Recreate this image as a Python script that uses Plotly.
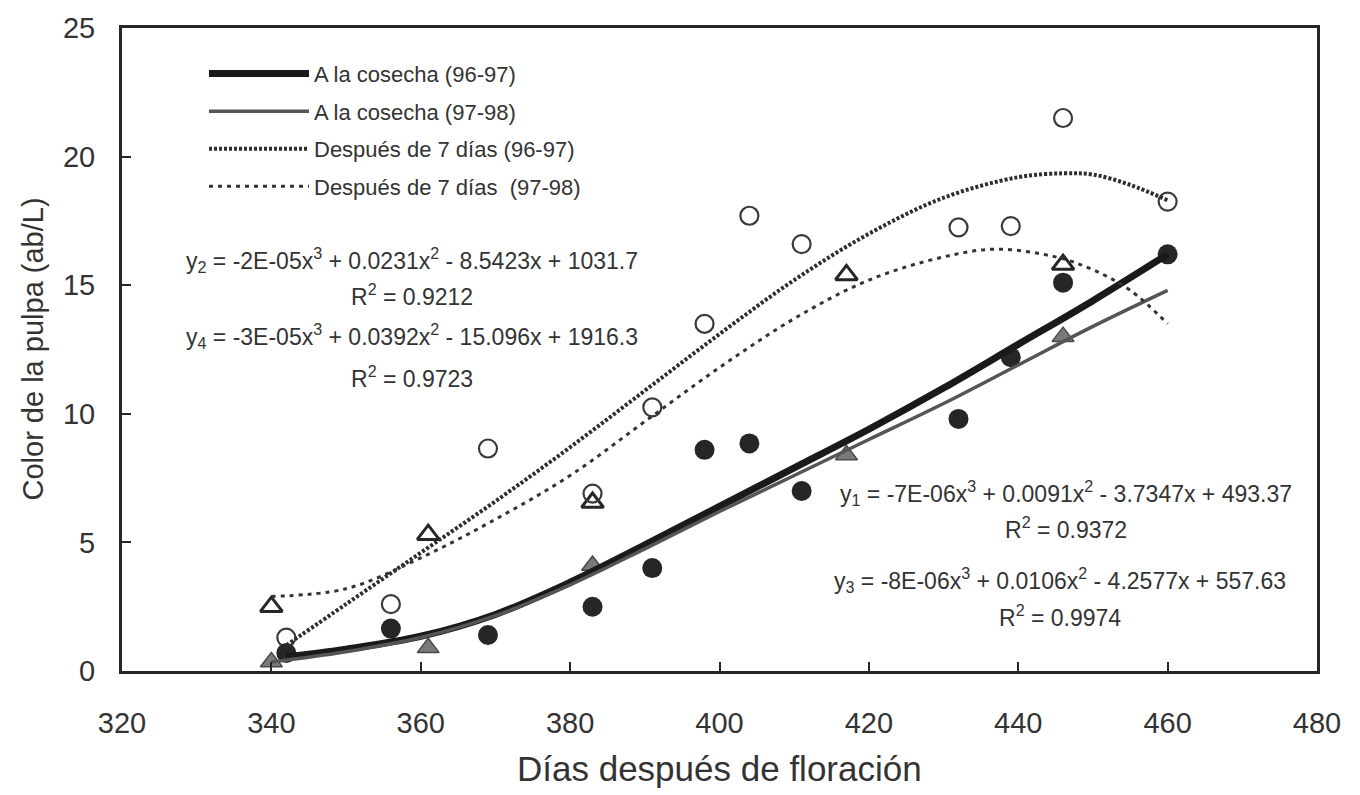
import plotly.graph_objects as go

# ---- data ----
x96 = [342, 356, 369, 383, 391, 398, 404, 411, 432, 439, 446, 460]
cos96 = [0.7, 1.65, 1.4, 2.5, 4.0, 8.6, 8.85, 7.0, 9.8, 12.2, 15.1, 16.2]
d7_96 = [1.3, 2.6, 8.65, 6.9, 10.25, 13.5, 17.7, 16.6, 17.25, 17.3, 21.5, 18.25]

x97 = [340, 361, 383, 417, 446]
cos97 = [0.35, 0.9, 4.1, 8.4, 13.0]
d7_97 = [2.5, 5.3, 6.55, 15.4, 15.8]

# fitted trend curves
fx_cos96 = [342, 350, 360, 370, 380, 390, 400, 410, 420, 430, 440, 450, 460]
fy_cos96 = [0.55, 0.85, 1.35, 2.2, 3.45, 4.9, 6.4, 7.9, 9.4, 11.0, 12.7, 14.4, 16.2]

fx_cos97 = [340, 350, 360, 370, 380, 390, 400, 410, 420, 430, 440, 450, 460]
fy_cos97 = [0.35, 0.75, 1.3, 2.15, 3.35, 4.75, 6.2, 7.6, 9.0, 10.4, 11.9, 13.4, 14.8]

fx_d796 = [342, 350, 360, 370, 380, 390, 400, 410, 420, 430, 440, 446, 450, 455, 460]
fy_d796 = [1.0, 2.6, 4.6, 6.6, 8.7, 10.9, 13.1, 15.2, 17.0, 18.4, 19.2, 19.35, 19.3, 18.9, 18.3]

fx_d797 = [340, 350, 360, 370, 380, 390, 400, 410, 420, 430, 437, 445, 450, 455, 460]
fy_d797 = [2.9, 3.2, 4.4, 5.9, 7.6, 9.7, 11.8, 13.7, 15.2, 16.1, 16.4, 16.1, 15.6, 14.8, 13.5]

legend_names = ["A la cosecha (96-97)", "A la cosecha (97-98)",
                "Después de 7 días (96-97)", "Después de 7 días  (97-98)"]

equations = [
    ("y<sub>2</sub> = -2E-05x<sup>3</sup> + 0.0231x<sup>2</sup> - 8.5423x + 1031.7", "R<sup>2</sup> = 0.9212"),
    ("y<sub>4</sub> = -3E-05x<sup>3</sup> + 0.0392x<sup>2</sup> - 15.096x + 1916.3", "R<sup>2</sup> = 0.9723"),
    ("y<sub>1</sub> = -7E-06x<sup>3</sup> + 0.0091x<sup>2</sup> - 3.7347x + 493.37", "R<sup>2</sup> = 0.9372"),
    ("y<sub>3</sub> = -8E-06x<sup>3</sup> + 0.0106x<sup>2</sup> - 4.2577x + 557.63", "R<sup>2</sup> = 0.9974"),
]

FONT = "Liberation Sans, Arial, Helvetica, sans-serif"
INK = "#262626"
TXT = "#333333"

fig = go.Figure()

# markers
fig.add_trace(go.Scatter(x=x97, y=cos97, mode="markers", showlegend=False,
                         marker=dict(symbol="triangle-up", size=19, color="#7a7a7a",
                                     line=dict(color="#4a4a4a", width=1.5))))
fig.add_trace(go.Scatter(x=x97, y=d7_97, mode="markers", showlegend=False,
                         marker=dict(symbol="triangle-up-open", size=19, color=INK,
                                     line=dict(width=3))))
fig.add_trace(go.Scatter(x=x96, y=d7_96, mode="markers", showlegend=False,
                         marker=dict(symbol="circle-open", size=18, color="#3a3a3a",
                                     line=dict(width=2.2))))
fig.add_trace(go.Scatter(x=x96, y=cos96, mode="markers", showlegend=False,
                         marker=dict(symbol="circle", size=20, color=INK)))

# fitted lines (legend entries)
fig.add_trace(go.Scatter(x=fx_cos96, y=fy_cos96, mode="lines", name=legend_names[0],
                         legendgroup="a", legendrank=1,
                         line=dict(color="#1a1a1a", width=7, shape="spline")))
fig.add_trace(go.Scatter(x=fx_cos97, y=fy_cos97, mode="lines", name=legend_names[1],
                         legendgroup="b", legendrank=2,
                         line=dict(color="#555555", width=3.5, shape="spline")))
fig.add_trace(go.Scatter(x=fx_d796, y=fy_d796, mode="lines", name=legend_names[2],
                         legendgroup="c", legendrank=3,
                         line=dict(color="#2e2e2e", width=4, dash="3px,2px", shape="spline")))
fig.add_trace(go.Scatter(x=fx_d797, y=fy_d797, mode="lines", name=legend_names[3],
                         legendgroup="d", legendrank=4,
                         line=dict(color="#333333", width=3, dash="4px,5px", shape="spline")))

# plot area geometry in px
L, R, T, B = 122, 1317, 21, 671
W, H = R - L, B - T


def px(xp):
    return (xp - L) / W


def py(yp):
    return (B - yp) / H


eq_pos = [
    (412, 256, 291),
    (412, 332, 374),
    (1066, 491, 526),
    (1060, 579, 615),
]
ann = []
for (eq, r2), (cx, ye, yr) in zip(equations, eq_pos):
    ann.append(dict(x=px(cx), y=py(ye), xref="paper", yref="paper", text=eq,
                    showarrow=False, xanchor="center", yanchor="middle",
                    font=dict(size=23, color=TXT, family=FONT)))
    ann.append(dict(x=px(cx), y=py(yr), xref="paper", yref="paper", text=r2,
                    showarrow=False, xanchor="center", yanchor="middle",
                    font=dict(size=23, color=TXT, family=FONT)))

# axis titles
ann.append(dict(x=0.5, y=py(770), xref="paper", yref="paper",
                text="Días después de floración", showarrow=False,
                xanchor="center", yanchor="middle",
                font=dict(size=35, color=TXT, family=FONT)))
ann.append(dict(x=px(32), y=py(346), xref="paper", yref="paper",
                text="Color de la pulpa (ab/L)", showarrow=False, textangle=-90,
                xanchor="center", yanchor="middle",
                font=dict(size=29, color=TXT, family=FONT)))

fig.update_layout(
    width=1360, height=795,
    margin=dict(l=L, r=1360 - R, t=T, b=795 - B),
    paper_bgcolor="white", plot_bgcolor="white",
    font=dict(family=FONT, color=TXT),
    annotations=ann,
    legend=dict(x=px(204), y=py(46), xanchor="left", yanchor="top",
                bgcolor="rgba(0,0,0,0)", borderwidth=0,
                font=dict(size=22, color=TXT, family=FONT),
                itemwidth=100, tracegroupgap=6, traceorder="grouped"),
)
fig.update_xaxes(range=[320, 480], tickvals=[320, 340, 360, 380, 400, 420, 440, 460, 480],
                 showgrid=False, zeroline=False, showline=True, mirror=True,
                 linewidth=3, linecolor=INK, ticks="inside", ticklen=9, tickwidth=1.5,
                 tickcolor=INK, ticklabelstandoff=24,
                 tickfont=dict(size=29, color=TXT, family=FONT))
fig.update_yaxes(range=[0, 25], tickvals=[0, 5, 10, 15, 20, 25],
                 showgrid=False, zeroline=False, showline=True, mirror=True,
                 linewidth=3, linecolor=INK, ticks="inside", ticklen=9, tickwidth=1.5,
                 tickcolor=INK, ticklabelstandoff=18,
                 tickfont=dict(size=29, color=TXT, family=FONT))

fig.write_html("out.html")
